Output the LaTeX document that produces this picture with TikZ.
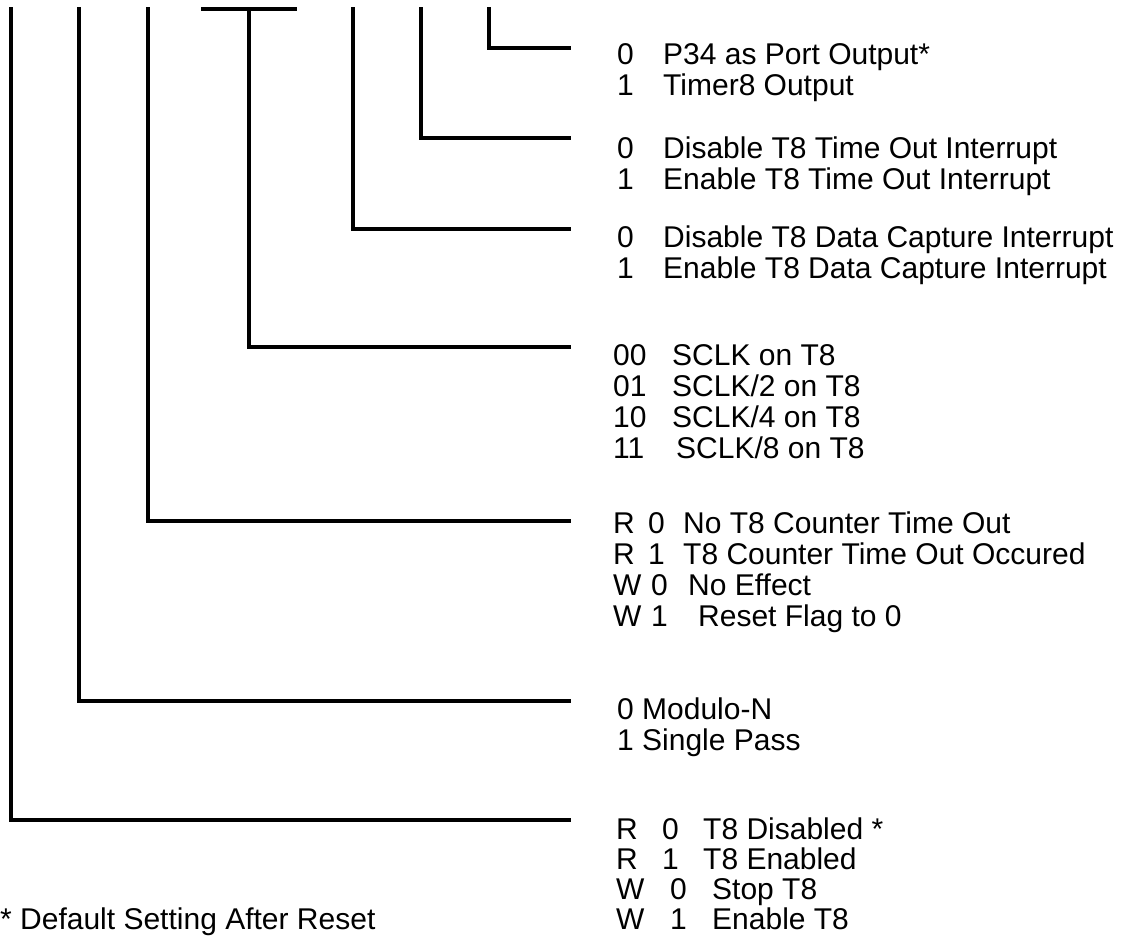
\documentclass[tikz,border=0pt]{standalone}
\usepackage{fontspec}
\setmainfont{Liberation Sans}
\begin{document}
\begin{tikzpicture}[x=1pt,y=-1pt,
  wire/.style={line width=4.3pt,line cap=butt,line join=miter},
  row/.style={anchor=base west,inner sep=0pt,font=\fontsize{30}{31}\selectfont},
]
\useasboundingbox (0,0) rectangle (1122,938);
% tops of the bit lines
\coordinate (t1) at (11,7);
\coordinate (t2) at (79,7);
\coordinate (t3) at (148,7);
\coordinate (t4) at (249,9);
\coordinate (t5) at (353,7);
\coordinate (t6) at (421,7);
\coordinate (t7) at (489,7);
\coordinate (tbl) at (201,9);
\coordinate (tbr) at (297,9);
% ends of the horizontal runs
\coordinate (e7) at (571,48);
\coordinate (e6) at (571,138);
\coordinate (e5) at (571,229);
\coordinate (e4) at (571,347);
\coordinate (e3) at (571,521);
\coordinate (e2) at (571,701);
\coordinate (e1) at (571,820);

\draw[wire] (t7) |- (e7);
\draw[wire] (t6) |- (e6);
\draw[wire] (t5) |- (e5);
\draw[wire] (tbl) -- (tbr);
\draw[wire] (t4) |- (e4);
\draw[wire] (t3) |- (e3);
\draw[wire] (t2) |- (e2);
\draw[wire] (t1) |- (e1);

% texts
\node[row] (a1) at (617,64) {\makebox[46pt][l]{0}P34 as Port Output*};
\node[row] (a2) at (617,95) {\makebox[46pt][l]{1}Timer8 Output};
\node[row] (b1) at (617,158) {\makebox[46pt][l]{0}Disable T8 Time Out Interrupt};
\node[row] (b2) at (617,189) {\makebox[46pt][l]{1}Enable T8 Time Out Interrupt};
\node[row] (c1) at (617,247) {\makebox[46pt][l]{0}Disable T8 Data Capture Interrupt};
\node[row] (c2) at (617,278) {\makebox[46pt][l]{1}Enable T8 Data Capture Interrupt};
\node[row] (d1) at (613,365) {\makebox[59pt][l]{00}SCLK on T8};
\node[row] (d2) at (613,396) {\makebox[59pt][l]{01}SCLK/2 on T8};
\node[row] (d3) at (613,427) {\makebox[59pt][l]{10}SCLK/4 on T8};
\node[row] (d4) at (613,458) {\makebox[63pt][l]{11}SCLK/8 on T8};
\node[row] (f1) at (613,533) {\makebox[35pt][l]{R}\makebox[35pt][l]{0}No T8 Counter Time Out};
\node[row] (f2) at (613,564) {\makebox[35pt][l]{R}\makebox[35pt][l]{1}T8 Counter Time Out Occured};
\node[row] (f3) at (613,595) {\makebox[38pt][l]{W}\makebox[37pt][l]{0}No Effect};
\node[row] (f4) at (613,626) {\makebox[38pt][l]{W}\makebox[47pt][l]{1}Reset Flag to 0};
\node[row] (g1) at (617,719) {0 Modulo-N};
\node[row] (g2) at (617,750) {1 Single Pass};
\node[row] (h1) at (616,839) {\makebox[46pt][l]{R}\makebox[41pt][l]{0}T8 Disabled *};
\node[row] (h2) at (616,869) {\makebox[46pt][l]{R}\makebox[41pt][l]{1}T8 Enabled};
\node[row] (h3) at (616,899) {\makebox[54pt][l]{W}\makebox[42pt][l]{0}Stop T8};
\node[row] (h4) at (616,929) {\makebox[54pt][l]{W}\makebox[42pt][l]{1}Enable T8};
\node[row] (fn) at (0,929) {* Default Setting After Reset};
\end{tikzpicture}
\end{document}
